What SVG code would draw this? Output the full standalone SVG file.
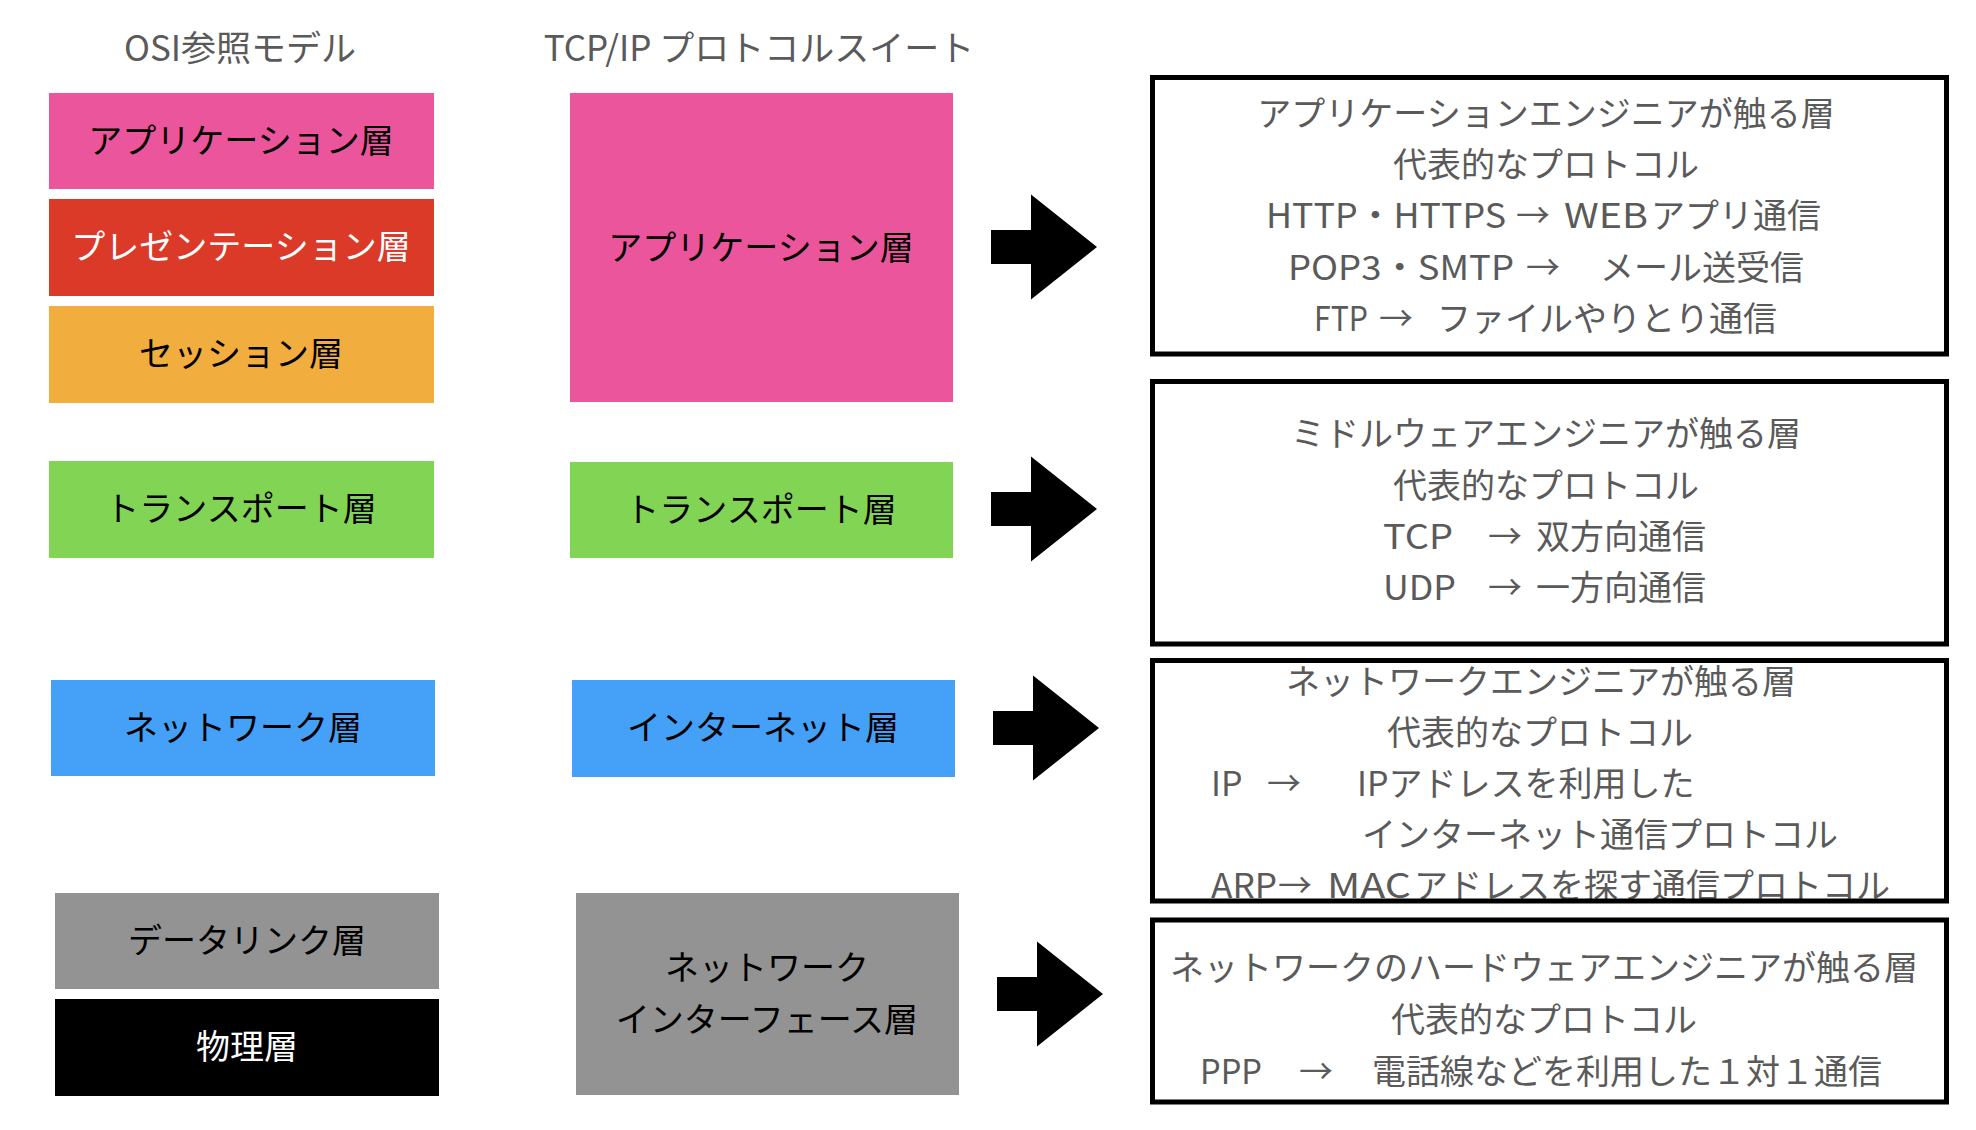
<svg xmlns="http://www.w3.org/2000/svg" xmlns:xlink="http://www.w3.org/1999/xlink" width="1976" height="1130" viewBox="0 0 1976 1130">
<style>
text{font-family:"Noto Sans CJK JP","Noto Sans",sans-serif;}
.title{font-size:35px;fill:#5a5a5a;text-anchor:middle;}
.lbl{font-size:34px;fill:#000;text-anchor:middle;}
.wl{fill:#fff;}
.info{font-size:34px;fill:#5a5a5a;}
.c{text-anchor:middle;}
.box{fill:#fff;stroke:#000;stroke-width:5;}
.frame{fill:none;stroke:#000;stroke-width:5;}
.arrow{fill:#000;}
</style>
<defs>
<path id="blockArrow" d="M0,-17 H40 V-52.5 L106,0 L40,52.5 V17 H0 Z"/>
</defs>
<rect width="1976" height="1130" fill="#fff"/>

<g id="titles">
<text class="title" x="240" y="61">OSI参照モデル</text>
<text class="title" x="759" y="61">TCP/IP プロトコルスイート</text>
</g>

<g id="osi-application"><rect x="49" y="93" width="385" height="96" fill="#EB559B"/><text class="lbl" x="241" y="153">アプリケーション層</text></g>
<g id="osi-presentation"><rect x="49" y="199" width="385" height="97" fill="#DA3A27"/><text class="lbl wl" x="241" y="259">プレゼンテーション層</text></g>
<g id="osi-session"><rect x="49" y="306" width="385" height="97" fill="#F2AD3F"/><text class="lbl" x="241" y="366">セッション層</text></g>
<g id="osi-transport"><rect x="49" y="461" width="385" height="97" fill="#82D455"/><text class="lbl" x="241" y="521">トランスポート層</text></g>
<g id="osi-network"><rect x="51" y="680" width="384" height="96" fill="#45A1F7"/><text class="lbl" x="243" y="740">ネットワーク層</text></g>
<g id="osi-datalink"><rect x="55" y="893" width="384" height="96" fill="#939393"/><text class="lbl" x="247" y="953">データリンク層</text></g>
<g id="osi-physical"><rect x="55" y="999" width="384" height="97" fill="#000"/><text class="lbl wl" x="247" y="1059">物理層</text></g>

<g id="tcp-application"><rect x="570" y="93" width="383" height="309" fill="#EB559B"/><text class="lbl" x="761" y="260">アプリケーション層</text></g>
<g id="tcp-transport"><rect x="570" y="462" width="383" height="96" fill="#82D455"/><text class="lbl" x="761" y="522">トランスポート層</text></g>
<g id="tcp-internet"><rect x="572" y="680" width="383" height="97" fill="#45A1F7"/><text class="lbl" x="763" y="740">インターネット層</text></g>
<g id="tcp-netif"><rect x="576" y="893" width="383" height="202" fill="#939393"/><text class="lbl" x="767" y="980">ネットワーク</text><text class="lbl" x="767" y="1032">インターフェース層</text></g>

<g id="connectors">
<use xlink:href="#blockArrow" class="arrow" x="991" y="247"/>
<use xlink:href="#blockArrow" class="arrow" x="991" y="509"/>
<use xlink:href="#blockArrow" class="arrow" x="993" y="728"/>
<use xlink:href="#blockArrow" class="arrow" x="997" y="994"/>
</g>

<g id="info-application">
<rect class="box" x="1152.5" y="77.5" width="794" height="276.5"/>
<text class="info c" x="1546" y="126">アプリケーションエンジニアが触る層</text>
<text class="info c" x="1546" y="177">代表的なプロトコル</text>
<text class="info" x="1266" y="228" textLength="240" lengthAdjust="spacingAndGlyphs">HTTP・HTTPS</text><text class="info c" x="1533" y="228">→</text><text class="info" x="1564" y="228" textLength="84" lengthAdjust="spacingAndGlyphs">WEB</text><text class="info" x="1651" y="228">アプリ通信</text>
<text class="info" x="1288" y="280" textLength="226" lengthAdjust="spacingAndGlyphs">POP3・SMTP</text><text class="info c" x="1543" y="280">→</text><text class="info" x="1600" y="280">メール送受信</text>
<text class="info" x="1314" y="331" textLength="54" lengthAdjust="spacingAndGlyphs">FTP</text><text class="info c" x="1396" y="331">→</text><text class="info" x="1437" y="331">ファイルやりとり通信</text>
</g>

<g id="info-transport">
<rect class="box" x="1152.5" y="381.5" width="794" height="262.5"/>
<text class="info c" x="1546" y="446">ミドルウェアエンジニアが触る層</text>
<text class="info c" x="1546" y="498">代表的なプロトコル</text>
<text class="info" x="1383" y="549" textLength="70" lengthAdjust="spacingAndGlyphs">TCP</text><text class="info c" x="1505" y="549">→</text><text class="info" x="1536" y="549">双方向通信</text>
<text class="info" x="1383" y="600" textLength="73" lengthAdjust="spacingAndGlyphs">UDP</text><text class="info c" x="1505" y="600">→</text><text class="info" x="1536" y="600">一方向通信</text>
</g>

<g id="info-internet">
<text class="info c" x="1541" y="694">ネットワークエンジニアが触る層</text>
<text class="info c" x="1540" y="745">代表的なプロトコル</text>
<text class="info" x="1211" y="796">IP</text><text class="info c" x="1284" y="796">→</text><text class="info" x="1357" y="796">IPアドレスを利用した</text>
<text class="info" x="1362" y="847">インターネット通信プロトコル</text>
<text class="info" x="1211" y="898" textLength="66" lengthAdjust="spacingAndGlyphs">ARP</text><text class="info c" x="1295" y="898">→</text><text class="info" x="1327" y="898" textLength="84" lengthAdjust="spacingAndGlyphs">MAC</text><text class="info" x="1414" y="898">アドレスを探す通信プロトコル</text>
<rect class="frame" x="1152.5" y="660.5" width="794" height="240.5"/>
</g>

<g id="info-netif">
<rect class="box" x="1152.5" y="920" width="794" height="182"/>
<text class="info c" x="1544" y="980">ネットワークのハードウェアエンジニアが触る層</text>
<text class="info c" x="1544" y="1032">代表的なプロトコル</text>
<text class="info" x="1200" y="1084" textLength="62" lengthAdjust="spacingAndGlyphs">PPP</text><text class="info c" x="1316" y="1084">→</text><text class="info" x="1372" y="1084">電話線などを利用した１対１通信</text>
</g>
</svg>
